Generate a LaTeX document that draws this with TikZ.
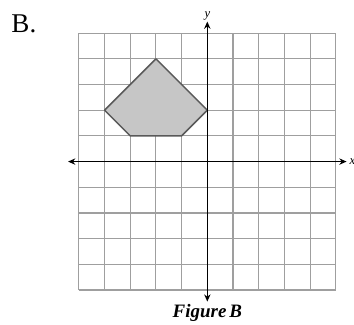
\documentclass[tikz,border=0pt]{standalone}
\usepackage{fontspec}
\setmainfont{Liberation Serif}
\usetikzlibrary{positioning, arrows.meta}

\tikzset{
    gridline/.style={draw=gray!75, line width=0.6pt},
    axisline/.style={draw=black, line width=0.8pt, {Stealth[length=4pt,width=3.5pt]}-{Stealth[length=4pt,width=3.5pt]}},
    shapefill/.style={fill=gray!45, draw=black!65, line width=0.8pt, line join=round}
}

\begin{document}
\begin{tikzpicture}[x=0.5cm, y=0.5cm]
    \useasboundingbox (-8.07,-6.35) rectangle (5.71,6.29);
    % grid
    \foreach \i in {-5,...,5} {
        \draw[gridline] (\i,-5) -- (\i,5);
        \draw[gridline] (-5,\i) -- (5,\i);
    }
    % shaded figure
    \draw[shapefill] (-2,4) -- (0,2) -- (-1,1) -- (-3,1) -- (-4,2) -- cycle;
    % axes
    \coordinate (xleft) at (-5.42,0);
    \coordinate (xright) at (5.42,0);
    \coordinate (ybot) at (0,-5.45);
    \coordinate (ytop) at (0,5.45);
    \draw[axisline] (xleft) -- (xright);
    \draw[axisline] (ybot) -- (ytop);
    \node[font=\itshape\fontsize{7}{8}\selectfont, above=0.5pt of ytop, inner sep=0pt] (ylabel) {y};
    \node[font=\itshape\fontsize{7}{8}\selectfont, right=1.5pt of xright, inner sep=0pt] (xlabel) {x};
    % labels
    \node[font=\fontsize{15}{16}\selectfont, inner sep=0pt] (partlabel) at (-7.14,5.36) {B.};
    \node[font=\bfseries\itshape\fontsize{10.5}{12}\selectfont, inner sep=0pt] (caption) at (0,-5.9) {Figure\hspace{0.15em}B};
\end{tikzpicture}
\end{document}
